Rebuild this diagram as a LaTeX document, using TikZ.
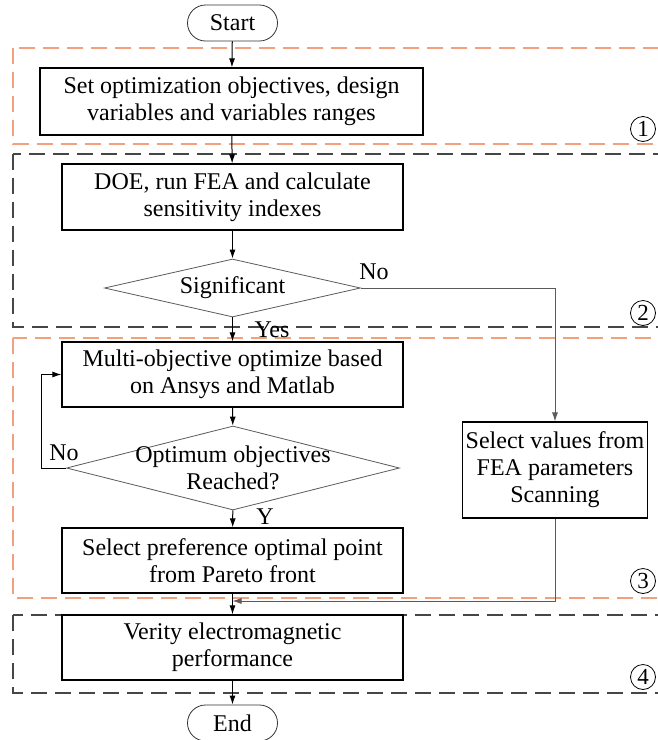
\documentclass[tikz,border=0pt]{standalone}
\usepackage{fontspec}
\setmainfont{Liberation Serif}
\usetikzlibrary{arrows.meta,shapes.geometric}
\definecolor{orangedash}{RGB}{242,160,125}
\definecolor{graydash}{RGB}{70,70,70}
\definecolor{thingray}{RGB}{90,90,90}
\tikzset{
 procbox/.style={draw=black, line width=1.2pt, align=center, font=\fontsize{24}{27}\selectfont, inner sep=0pt, minimum width=341pt, minimum height=66pt},
 term/.style={draw=black!80, line width=0.8pt, rounded corners=18pt, minimum width=90pt, minimum height=36pt, font=\fontsize{24}{27}\selectfont, inner sep=0pt},
 dec/.style={diamond, draw=thingray, line width=0.8pt, inner sep=0pt},
 lbl/.style={font=\fontsize{24}{27}\selectfont, inner sep=0pt, align=center},
 arr/.style={-{Latex[length=9pt,width=6pt]}, line width=1pt},
 thinarr/.style={-{Latex[length=9pt,width=6pt]}, draw=thingray, line width=0.8pt},
 odash/.style={draw=orangedash, line width=1.2pt, dash pattern=on 16pt off 8pt},
 gdash/.style={draw=graydash, line width=1.2pt, dash pattern=on 16pt off 8pt},
 num/.style={circle, draw, line width=0.8pt, minimum size=25pt, inner sep=0pt, font=\fontsize{23}{23}\selectfont}
}
\begin{document}
\begin{tikzpicture}[x=1pt,y=-1pt]
\useasboundingbox (0,0) rectangle (657,740);
% regions
\draw[odash] (13,48) rectangle (672,144);
\draw[gdash] (13,154) rectangle (672,327);
\draw[odash] (13,338) rectangle (672,598);
\draw[gdash] (13,615) rectangle (672,693);
\node[num] (n1) at (643,129) {1};
\node[num] (n2) at (643,313) {2};
\node[num] (n3) at (643,581) {3};
\node[num] (n4) at (643,677) {4};
% nodes
\node[term] (start) at (232.5,23) {Start};
\node[procbox, minimum width=383pt, minimum height=67pt] (b1) at (231.5,101.5) {Set optimization objectives, design\\variables and variables ranges};
\node[procbox] (b2) at (232.5,197) {DOE, run FEA and calculate\\sensitivity indexes};
\node[dec, minimum width=256pt, minimum height=58pt] (d1) at (232.5,288) {};
\node[lbl] (d1t) at (d1) {Significant};
\node[procbox, minimum height=65pt] (b3) at (232.5,374.5) {Multi-objective optimize based\\on Ansys and Matlab};
\node[dec, minimum width=333pt, minimum height=84pt] (d2) at (233,468) {};
\node[lbl] (d2t) at (d2) {Optimum objectives\\Reached?};
\node[procbox, minimum height=65pt] (b4) at (232.5,560.5) {Select preference optimal point\\from Pareto front};
\node[procbox, minimum width=185pt, minimum height=96pt] (rb) at (555,470) {Select values from\\FEA parameters\\Scanning};
\node[procbox, minimum height=65pt] (b5) at (232.5,647.5) {Verity electromagnetic\\performance};
\node[term] (end) at (232.5,723) {End};
% labels
\node[lbl] (no1) at (374,272) {No};
\node[lbl] (yes) at (272,330) {Yes};
\node[lbl] (no2) at (64,453) {No};
\node[lbl] (y2) at (265,517) {Y};
% connectors
\coordinate (lp) at (41,468);
\coordinate (mj) at (232.5,601);
\draw[arr] (start) -- (b1);
\draw[arr] (b1) -- (b2);
\draw[arr] (b2) -- (d1);
\draw[arr] (d1) -- (b3);
\draw[thinarr] (d1.east) -| (rb.north);
\draw[arr] (b3) -- (d2);
\draw[arr] (d2.west) -- (lp) |- (b3.west);
\draw[arr] (d2) -- (b4);
\draw[arr] (b4) -- (b5);
\draw[thinarr] (rb.south) |- (mj);
\draw[arr] (b5) -- (end);
\end{tikzpicture}
\end{document}
